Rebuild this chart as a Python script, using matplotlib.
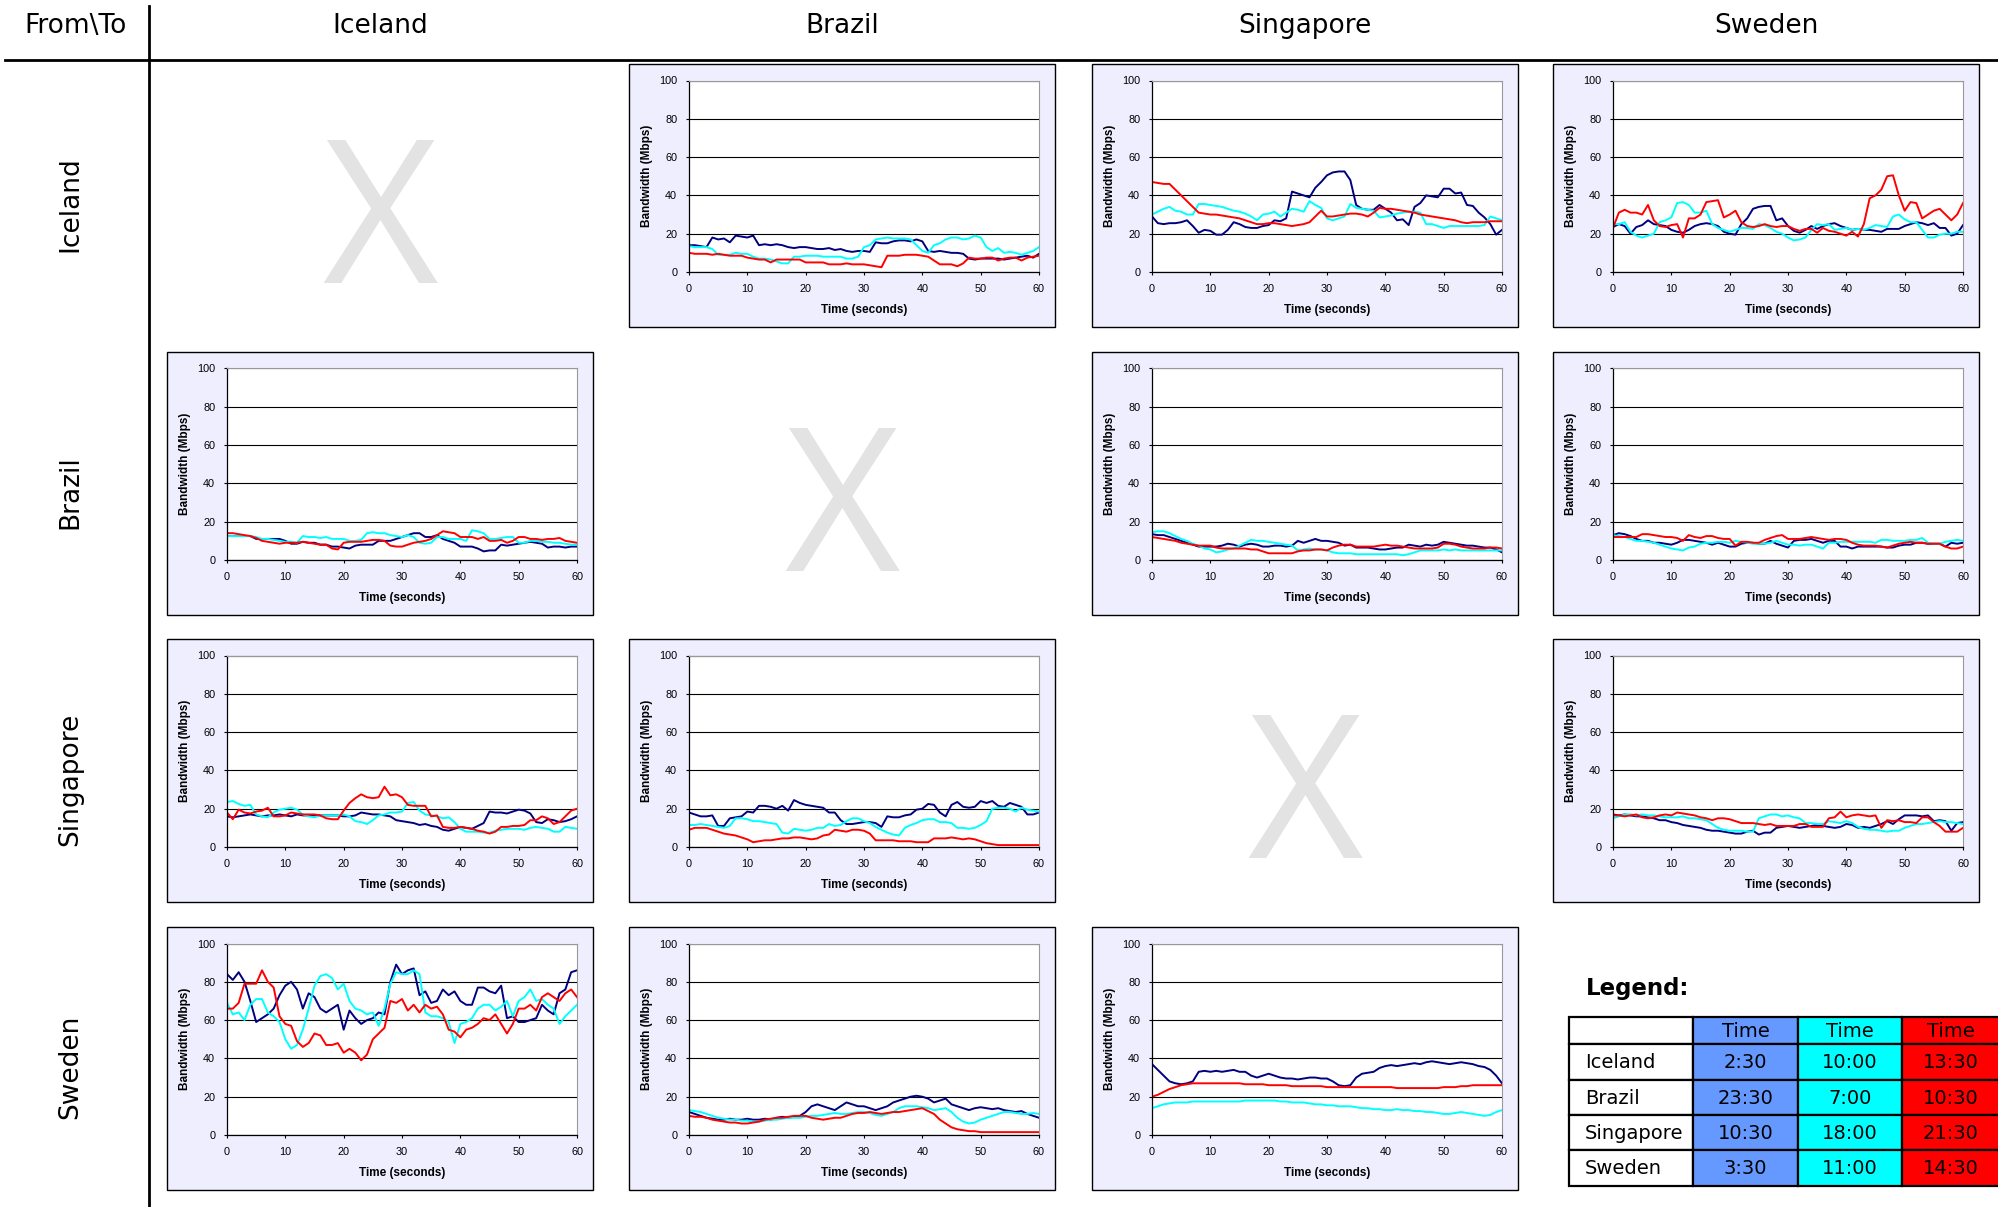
import matplotlib
matplotlib.use('Agg')
import matplotlib.pyplot as plt
from matplotlib.patches import Rectangle
from matplotlib.lines import Line2D

######## data: bandwidth (Mbps) sampled once per second ########

SAMPLE_TIMES = list(range(61))

countries = ['Iceland', 'Brazil', 'Singapore', 'Sweden']
time_blue = ['2:30', '23:30', '10:30', '3:30']
time_cyan = ['10:00', '7:00', '18:00', '11:00']
time_red = ['13:30', '10:30', '21:30', '14:30']

# Iceland -> Brazil
ice_bra_blue = [14,14,13.5,13,18,17,17.5,15.5,19,18.5,18,19,14,14.5,14,14.5,14,13,12.5,13,13,12.5,12,12,12.5,11.5,12,11,10.5,11,11,10.5,15.5,15,15,16,16.5,16.5,16,17,16,11,10.5,11,10.5,10,10,9.5,7,6.5,7,7,7,7,6.5,7,7.5,8,8.5,7.5,9.5]
ice_bra_cyan = [13.5,13,13,13,12,9,9,9,10,9.5,9.5,8,7,7,6.5,5.5,4.5,4.5,8,8,8.5,8.5,8.5,8,8,8,8,7,7,8,13,14,17,17.5,18,17.5,17.5,17.5,17,14,11,10,14,15,17,18,18,17,17.5,19,18,13,11,12.5,10,10.5,10,9,10,11,13]
ice_bra_red = [10,9.5,9.5,9.5,9,9.5,9,8.5,8.5,8.5,7.5,7,6.5,6.5,5,6.5,6.5,6.5,6.5,6.5,5,5,5,5,4,4,4,4.5,4,4,4,3.5,3,2.5,8.5,8.5,8.5,9,9,9,8.5,8,6,4,4,4,3,4.5,7.5,7,7,7.5,7.5,6,7,7.5,7.5,6,7.5,8,8.5]

# Iceland -> Singapore
ice_sin_blue = [29,25.5,25,25.5,25.5,26,27,24,20.5,22,21.5,19.5,19.5,22,26,25,23.5,23,23,24,24.5,27,26.5,28,42,41,40,39,44,47,50.5,52,52.5,52.5,48,35,33,32.5,32.5,35,33,31,27,27.5,24.5,34,36,40,39.5,39,43.5,43.5,41,41.5,35,34.5,31,28.5,25,19.5,22]
ice_sin_cyan = [30,31.5,33,34,32,31.5,30,30,35.5,35.5,35,34.5,34,33,32,31.5,30.5,29,27,30,30.5,31.5,29,31,33,32.5,31.5,37,35,33.5,28,27,28,29,35.5,33.5,33,32.5,32,28.5,29,29.5,30.5,31,31.5,31.5,31,25,25,24,23,24,24,24,24,24,24,24.5,29,28,27]
ice_sin_red = [47,46.5,46,46,43,40,37,34,31,30.5,30,30,29.5,29,28.5,28,27,26,25,25,25.5,25.5,25,24.5,24,24.5,25,26,29,32,29,29,29.5,30,30.5,30.5,30,29,31,33.5,33,33,32.5,32,31.5,31,30,29.5,29,28.5,28,27.5,27,26,25.5,26,26,26,26.5,26.5,26.5]

# Iceland -> Sweden
ice_swe_blue = [23.5,25,24,20,23.5,24.5,27,25,24.5,24,22,21,20.5,22,24,25,25.5,25,24,21,20,19.5,25,28,33,34,34.5,34.5,27,28,24,21.5,20.5,22,24,22.5,24,25,25.5,24,23,22,22.5,22,22,21.5,21,22.5,22.5,22.5,24,25,26,25.5,24.5,25.5,23,23,19,20,24.5]
ice_swe_cyan = [25,25,26,21,19,18,19,20,26,27,28.5,36,36.5,35,31,31,32,25,23,22,21,22,23,23,22.5,25,24.5,23,21,20,18,16.5,17,18,22,25,24.5,25,22,22.5,23,22,22.5,22,23,24.5,24,23.5,29,30,27.5,26,26,22,18,18,19.5,20,20,21,21]
ice_swe_red = [23,31,32.5,31,31,30,35,27,24,23.5,24.5,25,18,28,28,30,36.5,37,37.5,28.5,30,32,26,24,23.5,24,25,24,23.5,24,24,22.5,21.5,22.5,22.5,20.5,23,21.5,21,20,19,21,18.5,25,38.5,40,43,50,50.5,40,32,36.5,36,28,30,32,33,30,27,30,36]

# Brazil -> Iceland
bra_ice_blue = [12.5,12.5,12.5,12.5,12.5,11,11,11,11,11,10,8.5,8.5,9.5,9,9,8,8,7,7,6.5,6,7.5,8,8,8,10,10,10,11,12,13,14,14,12,12,13,11,10,9,7,7,7,6,4.5,5,5,8,7.5,8,8.5,9,9.5,9,8.5,6.5,7,7,6.5,7,7]
bra_ice_cyan = [12.5,12.5,12.5,12.5,12.5,12,11,11,10.5,10,9.5,9.5,9,12.5,12,12,11.5,12,11,11,11,10,10,10.5,14,14.5,14,14,13,12.5,12,13,12,9,8.5,9,12,12,11,11,11,10,15.5,15,14,11,11,11.5,12,12,9,9,10,10,9.5,9.5,9,9,8.5,8,8]
bra_ice_red = [14,14,13.5,13,12.5,11.5,10,9.5,9,8.5,9,9,9,9.5,9,8.5,8,8,6,5.5,9,9.5,9.5,9.5,10,10.5,10.5,10,7.5,7,7,8,9,9.5,10,11,13,15,14.5,14,12,12,12,11,12,10,10,10.5,9,10,12,12,11,11,10.5,11,11,11.5,10,9.5,9]

# Brazil -> Singapore
bra_sin_blue = [13.5,13,13,12,11,10,9,8,7,7,7,7,7.5,8.5,8,7,8,8.5,8,7,7,7.5,7.5,7,7.5,10,9,10,11,10,10,9.5,9,7.5,8,6.5,6.5,6.5,6,5.5,5.5,6,6.5,6.5,8,7.5,7,8,7.5,8,9.5,9,8.5,8,7.5,7.5,7,6.5,6.5,5.5,4]
bra_sin_cyan = [14.5,15,15,14,12.5,11,10,8.5,7.5,6,5.5,4,4.5,5.5,6,7.5,9,10.5,10,10,9.5,9,8.5,8,7.5,5,5.5,6,5.5,5.5,5,4,3.5,3.5,3.5,3,3,3,3,3,3,3,3,2.5,3,4,5,5,5,5,5.5,5,5.5,5,5,5,5,5,5,5,5]
bra_sin_red = [12,11.5,11,10.5,10,9,8.5,8,7.5,7.5,7.5,6.5,6,6,6,6,6,5.5,5.5,4.5,3.5,3.5,3.5,3.5,3.5,4.5,5,5,5.5,5.5,5,6.5,7.5,8,8,7,7,7,7,7.5,8,7.5,7.5,7,6.5,6,6,6,6,6.5,8.5,8.5,8,7,6.5,6,6,6,6.5,6.5,6]

# Brazil -> Sweden
bra_swe_blue = [13,14,13.5,12.5,11,10,10,9,9,8.5,8,9,10.5,10.5,10,9.5,9,8,9,8,7,7,8.5,9,9,8.5,8.5,10,8.5,7.5,6.5,10,10.5,10.5,11,10,9,10,10,7,7,6,7,7,7,7,7,6.5,6.5,7.5,8,8,9,9,8.5,8.5,8.5,7,9,8.5,9]
bra_swe_cyan = [13,12.5,12,11,10,10,9.5,9,8,7,6,5.5,5,6.5,7,8.5,9,9,9.5,9.5,9,10,9.5,9,8.5,8.5,8.5,9,10,9,8,8,7.5,8,8,7,6,9,9,9.5,9.5,9.5,9.5,9.5,9.5,9,10.5,10.5,10,10,10,10.5,10.5,11.5,9,8.5,8.5,9.5,10,10.5,10]
bra_swe_red = [12,12,12,12,12,13.5,13.5,13,12.5,12,12,11.5,10,13,12,11.5,12.5,12.5,11.5,11,11,7.5,9.5,9.5,9,9,10.5,11.5,12.5,13,11,11,11,11.5,12,11.5,11,10.5,11,11,10.5,9,8,7.5,7.5,7.5,7,6.5,7.5,8.5,9,9.5,9,9,8.5,8.5,8.5,7,6,6,7]

# Singapore -> Iceland
sin_ice_blue = [16,15.5,16,16.5,17,16.5,16,16.5,16.5,17,16.5,16,17,16.5,16.5,16.5,16.5,16.5,16.5,16.5,16,16,16.5,18,17.5,17,17,16.5,16,14,13.5,13,12.5,11.5,12,11,10.5,9,8.5,9.5,10.5,10,9.5,11,12.5,18.5,18,18,17.5,18.5,19.5,19,17.5,13,12.5,14.5,14,13,13.5,14.5,16]
sin_ice_cyan = [23.5,24,22.5,21.5,22,17,16,15.5,18,19.5,20,20.5,19.5,17,16,15.5,16.5,16.5,16.5,16.5,17,16,13.5,13,12,14,16.5,17,18,18,18.5,23,23.5,19,17,16.5,16,15,15.5,13,9.5,8,8,8,7.5,7.5,8.5,9,9.5,9.5,9.5,9,10,10.5,10,9.5,8,8,10.5,10,9.5]
sin_ice_red = [18,14.5,19.5,18,17.5,18.5,19,20.5,16,16,16.5,18,17.5,17,17,17,16.5,15,14.5,14.5,19,23,25.5,27.5,26,25.5,26,31.5,27,27.5,26,22,21.5,21.5,21.5,16,16.5,10.5,10,10,10.5,10,9.5,8.5,8,7,8,10.5,10.5,11,11,11.5,14,14,16,15,12,13,16,19,20]

# Singapore -> Brazil
sin_bra_blue = [18,17,16,16,16.5,11,11,15,15.5,16,18.5,18,21.5,21.5,21,20,21.5,19,24.5,23,22,21.5,21,20.5,18,18,14,12,12,12.5,13,13,12.5,10.5,16,15.5,15.5,16.5,17,19.5,20,22.5,22,18,16,22,23.5,21,20.5,21,24,23,24,21.5,21,23,22,21,17,17,18]
sin_bra_cyan = [11.5,11.5,12,11.5,11,10.5,10,11,15,15,14.5,13.5,13.5,13,12.5,12,7.5,7,9.5,9,8.5,9,10,10,12,11,11.5,13.5,15,15,13.5,12.5,10.5,9,7.5,6.5,6,10,11.5,12.5,14,14.5,14.5,13,13,12.5,10,10,9.5,10,11.5,13.5,20,20.5,20.5,20,18.5,20.5,19.5,19,18.5]
sin_bra_red = [9,10,10,10,9,8,7,6.5,6,5,4,2.5,3,3.5,3.5,4,4.5,4.5,5,5,4.5,4,4.5,6,6.5,9,8.5,8,9,9,8.5,7,3.5,3.5,3.5,3.5,3,3,3,2.5,2.5,2.5,4.5,4.5,4.5,5,4.5,4,4.5,4,3,2,1.5,1,1,1,1,1,1,1,1]

# Singapore -> Sweden
sin_swe_blue = [17,16.5,17,16.5,16,16,15.5,15,14,14,13,12.5,11.5,11,10.5,10,9,8.5,8.5,8,7.5,7,7,8,8.5,6.5,7.5,7.5,10,10.5,11,10.5,10,10.5,11,11.5,11,10.5,10,10.5,12,11.5,10,10.5,10,11,12,13.5,12,14.5,16.5,16.5,16.5,16,16.5,13.5,14,13.5,8.5,12.5,13]
sin_swe_cyan = [15,16,17,17,16.5,17,16.5,16.5,16,15.5,15.5,15.5,16,15,15,14.5,14,12,10,9,8.5,8.5,8.5,8,8,15,16,17,17,16,16.5,15.5,15,12.5,12.5,12,12,13.5,13,12.5,13.5,12.5,10.5,9.5,9,9,8.5,8,8.5,8.5,10,11,12,12,12.5,13,13.5,13,13,12.5,12]
sin_swe_red = [16.5,16.5,16,16.5,17,15.5,15,15.5,16.5,17,16.5,18,17.5,17,16.5,15.5,15,14,15,15,14.5,13.5,12.5,12.5,12.5,12,11.5,12,11,11,11,11,12,12,10.5,10.5,10.5,15,15.5,18.5,15.5,16.5,17,16.5,16,16.5,10,14,13.5,14,13,13,12.5,15.5,15.5,13,11,8,8,8,10]

# Sweden -> Iceland
swe_ice_blue = [84,81,85,80,70,59,61,63,66,73,78,80,76,66,74,72,66,64,66,68,55,65,61,58,60,61,64,63,80,89,84,86,87,73,75,69,70,76,73,75,70,68,68,77,77,75,74,78,61,62,59,59,60,61,68,65,63,74,76,85,86]
swe_ice_cyan = [69,63,64,60,68,71,71,64,62,59,50,45,47,55,66,78,83,84,82,76,79,70,66,65,63,64,57,66,79,85,84,84,86,84,64,62,62,61,59,48,58,59,61,66,68,68,65,67,70,62,70,72,76,70,71,68,66,58,62,65,68]
swe_ice_red = [66,66,69,79,79,79,86,80,77,62,58,57,49,46,48,53,52,47,47,48,43,45,43,39,42,50,53,56,70,69,71,65,68,64,68,66,67,63,55,54,51,55,56,58,61,60,63,58,53,58,66,66,68,65,72,74,72,70,74,76,72]

# Sweden -> Brazil
swe_bra_blue = [12,11,10,9,8.5,8,8,8.5,8,8,8.5,8,8,8.5,8,9,9.5,9,9.5,10,12,15,16,15,14,13,15,17,16,15,15,14,13,14,15,17,18,19,20,20.5,20,19,17,18,19,16,15,14,13,14,14.5,14,13.5,14,13,12.5,12,12.5,11,10,9]
swe_bra_cyan = [13,12.5,12,11,10,9,8.5,8,8,7.5,7.5,7,7,7.5,8,8,8.5,9,9,9,9.5,10,10,10.5,11,11.5,11,11,11.5,12,12,11.5,10.5,10,11,12,14,15,15,15,14.5,14,13,13.5,14,12,9,7,6,6.5,8,9,10,11,12,12,11.5,11,11,11.5,11]
swe_bra_red = [10,9.5,9.5,9,8,7.5,7,6.5,6.5,6,6,6.5,7,8,8.5,9,9,9.5,10,10,10,9,8.5,8,8.5,9,9,10,11,11.5,11.5,12,11.5,11,11.5,12,12,12.5,13,13.5,14,12.5,11,8,6,4,3,2.5,2,2,1.5,1.5,1.5,1.5,1.5,1.5,1.5,1.5,1.5,1.5,1.5]

# Sweden -> Singapore
swe_sin_blue = [37,34,31,28,27,26.5,27,28,33,33.5,33,33.5,33,33.5,34,33,33,31,30,31,32,31,30,29.5,29.5,29,29.5,30,30,29.5,29.5,28,26,25.5,26,30,32,32.5,33,35,36,36.5,36,36.5,37,37.5,37,38,38.5,38,37.5,37,37.5,38,37.5,37,36,35.5,34,31,27]
swe_sin_cyan = [14,15,16,16.5,17,17,17,17.5,17.5,17.5,17.5,17.5,17.5,17.5,17.5,17.5,18,18,18,18,18,18,17.5,17.5,17,17,17,16.5,16,16,15.5,15.5,15,15,15,14.5,14,14,13.5,13.5,13,13,13.5,13,13,12.5,12.5,12,12,11.5,11,11,11.5,12,11.5,11,10.5,10,10.5,12,13]
swe_sin_red = [20,21,22.5,24,25,26,26.5,27,27,27,27,27,27,27,27,27,26.5,26.5,26.5,26.5,26,26,26,26,25.5,25.5,25.5,25.5,25.5,25.5,25,25,25,25,25,25,25,25,25,25,25,25,24.5,24.5,24.5,24.5,24.5,24.5,24.5,24.5,25,25,25,25.5,25.5,26,26,26,26,26,26]

# (from row, to column) -> series in legend order
panels = {
    (0, 1): (ice_bra_blue, ice_bra_cyan, ice_bra_red),
    (0, 2): (ice_sin_blue, ice_sin_cyan, ice_sin_red),
    (0, 3): (ice_swe_blue, ice_swe_cyan, ice_swe_red),
    (1, 0): (bra_ice_blue, bra_ice_cyan, bra_ice_red),
    (1, 2): (bra_sin_blue, bra_sin_cyan, bra_sin_red),
    (1, 3): (bra_swe_blue, bra_swe_cyan, bra_swe_red),
    (2, 0): (sin_ice_blue, sin_ice_cyan, sin_ice_red),
    (2, 1): (sin_bra_blue, sin_bra_cyan, sin_bra_red),
    (2, 3): (sin_swe_blue, sin_swe_cyan, sin_swe_red),
    (3, 0): (swe_ice_blue, swe_ice_cyan, swe_ice_red),
    (3, 1): (swe_bra_blue, swe_bra_cyan, swe_bra_red),
    (3, 2): (swe_sin_blue, swe_sin_cyan, swe_sin_red),
}

line_colors = ['#000080', '#00FFFF', '#FF0000']
fill_colors = ['#6699FF', '#00FFFF', '#FF0000']


######## layout (pixels of a 1999x1207 canvas) ########

W, H = 1999, 1207
plt.rcParams['font.family'] = 'Liberation Sans'
fig = plt.figure(figsize=(W / 100, H / 100), dpi=100)
fig.patch.set_facecolor('white')

def fx(px):
    return px / W

def fy(py):
    return 1 - py / H

col_x = [167, 629, 1092, 1553]
row_y = [64, 352, 639, 927]
pw, ph = 426, 263
head_font = 'DejaVu Sans'
head_size = 19

# outer grid lines
fig.add_artist(Line2D([fx(5), 1], [fy(60), fy(60)], color='black', lw=2))
fig.add_artist(Line2D([fx(149), fx(149)], [fy(6), 0], color='black', lw=2))

fig.text(fx(76), fy(26), 'From\\To', ha='center', va='center', fontsize=head_size, family=head_font)
for i, name in enumerate(countries):
    fig.text(fx(col_x[i] + pw / 2), fy(26), name, ha='center', va='center',
             fontsize=head_size, family=head_font)
    fig.text(fx(70), fy(row_y[i] + 140), name, ha='center', va='center',
             rotation=90, fontsize=head_size, family=head_font)

for r in range(4):
    for c in range(4):
        x, y = col_x[c], row_y[r]
        if r == c and r < 3:
            fig.text(fx(x + pw / 2), fy(y + 219), 'X', ha='center', va='baseline',
                     fontsize=144, family='Open Sans', fontweight='medium',
                     color='#E3E3E3')
            continue
        if (r, c) not in panels:
            continue
        fig.add_artist(Rectangle((fx(x), fy(y + ph)), pw / W, ph / H,
                                 transform=fig.transFigure, facecolor='#EEEEFF',
                                 edgecolor='black', lw=1.0, zorder=0))
        ax = fig.add_axes([fx(x + 60), fy(y + ph - 55), 350 / W, (ph - 16.5 - 55) / H])
        ax.set_facecolor('white')
        for vals, col in zip(panels[(r, c)], line_colors):
            ax.plot(SAMPLE_TIMES, vals, color=col, lw=1.4)
        ax.set_xlim(0, 60)
        ax.set_ylim(0, 100)
        ax.set_xticks(range(0, 61, 10))
        ax.set_yticks(range(0, 101, 20))
        ax.grid(axis='y', color='black', lw=0.8)
        ax.set_axisbelow(True)
        for s in ['top', 'right']:
            ax.spines[s].set_color('#999999')
            ax.spines[s].set_linewidth(0.8)
        for s in ['left', 'bottom']:
            ax.spines[s].set_color('black')
            ax.spines[s].set_linewidth(0.9)
        ax.tick_params(direction='out', length=2.5, width=0.8, labelsize=7.8, pad=6,
                       colors='black')
        ax.set_ylabel('Bandwidth (Mbps)', fontweight='bold', fontsize=8.5)
        ax.set_xlabel('Time (seconds)', fontweight='bold', fontsize=8.5)
        ax.yaxis.set_label_coords(-36 / 350, 0.5)
        ax.xaxis.set_label_coords(0.5, -32 / 191.5)

######## legend table ########

fig.text(fx(1586), fy(988), 'Legend:', ha='left', va='center', fontsize=16.5,
         fontweight='bold', family=head_font)

tab_x = [1569, 1693, 1798, 1902, 2010]
tab_y = [1017, 1044, 1080, 1115, 1150, 1186]
times = [time_blue, time_cyan, time_red]

for ri in range(5):
    for ci in range(4):
        fc = 'white' if ci == 0 else fill_colors[ci - 1]
        x0, x1 = tab_x[ci], tab_x[ci + 1]
        y0, y1 = tab_y[ri], tab_y[ri + 1]
        fig.add_artist(Rectangle((fx(x0), fy(y1)), (x1 - x0) / W, (y1 - y0) / H,
                                 transform=fig.transFigure, facecolor=fc,
                                 edgecolor='black', lw=1.6))
        yc = fy((y0 + y1) / 2 + 1)
        if ri == 0:
            if ci > 0:
                fig.text(fx((x0 + min(x1, 1999)) / 2), yc, 'Time', ha='center',
                         va='center', fontsize=14, family=head_font)
        elif ci == 0:
            fig.text(fx(1585), yc, countries[ri - 1], ha='left', va='center',
                     fontsize=14, family=head_font)
        else:
            fig.text(fx((x0 + min(x1, 1999)) / 2), yc, times[ci - 1][ri - 1],
                     ha='center', va='center', fontsize=14, family=head_font)

fig.savefig('out.png', dpi=100)
